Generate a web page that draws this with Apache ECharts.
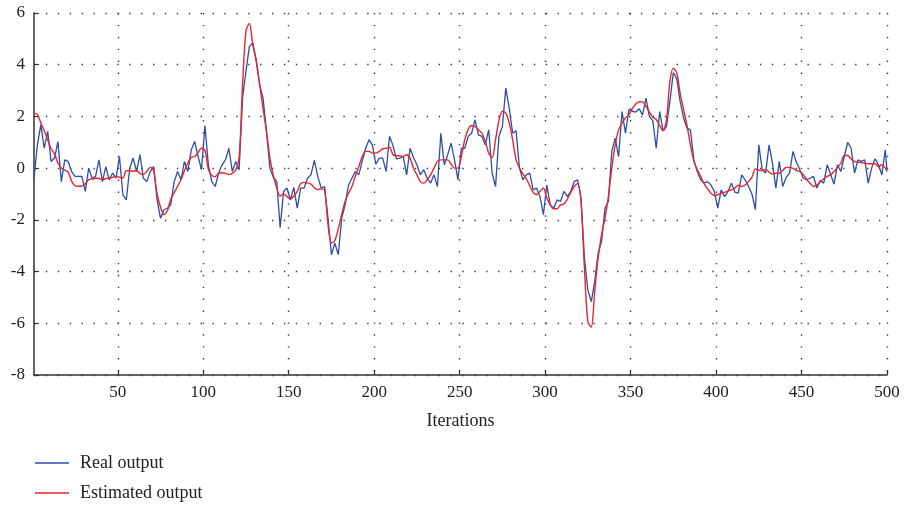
<!DOCTYPE html>
<html><head><meta charset="utf-8">
<script src="https://cdn.jsdelivr.net/npm/echarts@6/dist/echarts.min.js"></script>
<style>html,body{margin:0;padding:0;background:#fff}#c{width:905px;height:506px}</style>
</head><body><div id="c"></div>
<script>
// Real output, read at iterations 1,3,5,...,499 and 500
const realOutput = [
-0.39,0.9,1.68,0.77,1.42,0.26,0.39,1.03,-0.52,0.32,
0.26,-0.13,-0.32,-0.32,-0.32,-0.9,0.0,-0.39,-0.32,0.32,
-0.52,0.06,-0.45,-0.19,-0.39,0.45,-1.03,-1.23,0.0,0.39,
-0.13,0.52,-0.39,-0.52,-0.13,0.06,-1.23,-1.94,-1.61,-1.55,
-1.42,-0.52,-0.13,-0.45,0.26,-0.13,0.71,1.03,0.45,-0.06,
1.65,0.13,-0.52,-0.71,-0.19,0.13,0.32,0.77,-0.13,0.26,
-0.06,2.71,3.74,4.71,4.84,4.19,3.23,2.71,1.42,0.0,
-0.35,-0.52,-2.3,-0.9,-0.77,-1.23,-0.75,-1.55,-0.77,-0.77,
-0.39,-0.26,0.3,-0.32,-0.77,-0.71,-1.94,-3.35,-2.9,-3.35,
-1.94,-1.42,-0.65,-0.39,-0.13,-0.26,0.26,0.77,1.1,0.88,
0.15,0.39,0.39,-0.13,1.23,0.87,0.36,0.39,0.45,-0.26,
0.77,0.41,0.13,-0.26,-0.06,-0.39,-0.58,-0.26,-0.71,1.35,
0.13,0.52,0.97,0.32,-0.45,0.77,0.77,1.23,1.35,1.87,
1.29,1.23,0.9,1.48,-0.19,-0.71,1.23,1.61,3.1,2.32,
1.35,1.45,0.0,-0.45,-0.26,-0.19,-0.84,-0.77,-1.1,-1.8,
-0.65,-1.42,-1.55,-1.23,-1.29,-0.9,-1.1,-0.9,-0.52,-0.45,
-1.16,-3.48,-4.71,-5.16,-4.39,-3.29,-2.84,-1.55,-1.29,0.65,
1.16,0.45,2.19,1.35,2.26,2.2,2.17,2.3,2.06,2.71,
2.0,1.83,0.77,2.19,1.45,1.61,2.58,3.7,3.45,2.58,
1.94,1.55,1.48,0.32,-0.13,-0.45,-0.58,-0.52,-0.65,-0.9,
-1.55,-0.84,-1.1,-0.9,-0.58,-0.93,-0.97,-0.26,-0.45,-0.71,
-1.0,-1.6,0.9,-0.06,-0.19,0.9,0.19,-0.77,0.26,-0.71,
-0.36,-0.19,0.65,0.23,-0.06,-0.39,-0.45,-0.39,-0.32,-0.77,
-0.48,-0.58,0.13,-0.23,-0.62,0.13,-0.13,0.45,1.0,0.77,
-0.19,0.32,0.26,0.32,-0.58,0.0,0.36,0.13,-0.26,0.71,
-0.1
];
// Estimated output, same iterations
const estimatedOutput = [
2.12,2.08,1.75,1.45,1.1,0.75,0.55,0.2,0.0,-0.08,
-0.15,-0.5,-0.68,-0.7,-0.7,-0.6,-0.45,-0.42,-0.39,-0.4,
-0.45,-0.4,-0.38,-0.35,-0.32,-0.35,-0.38,-0.1,-0.1,-0.12,
-0.1,-0.2,-0.25,-0.12,0.03,-0.1,-1.0,-1.5,-1.8,-1.65,
-1.2,-0.95,-0.7,-0.45,-0.1,0.2,0.42,0.45,0.6,0.78,
0.68,-0.05,-0.28,-0.33,-0.2,-0.18,-0.2,-0.25,-0.2,-0.07,
0.4,3.2,5.3,5.6,4.77,4.13,3.23,2.3,1.42,0.39,
-0.28,-0.77,-1.08,-1.0,-1.1,-1.2,-1.08,-0.9,-0.6,-0.55,
-0.57,-0.62,-0.75,-0.83,-0.8,-0.85,-2.2,-2.9,-2.8,-2.35,
-1.8,-1.29,-0.97,-0.71,-0.3,0.06,0.45,0.65,0.65,0.58,
0.58,0.65,0.75,0.77,0.8,0.52,0.48,0.48,0.45,0.52,
0.39,0.0,-0.26,-0.52,-0.58,-0.45,-0.26,0.0,0.26,0.32,
0.32,0.32,0.15,0.0,0.0,0.45,1.1,1.5,1.65,1.6,
1.48,1.35,1.03,0.58,0.41,1.1,1.85,2.2,2.12,1.75,
1.1,0.32,0.0,-0.22,-0.41,-0.68,-0.94,-1.03,-0.9,-0.77,
-1.16,-1.42,-1.57,-1.57,-1.42,-1.39,-1.2,-0.94,-0.71,-0.6,
-1.29,-3.87,-5.94,-6.15,-4.77,-3.48,-2.58,-1.94,-1.1,0.0,
0.9,1.48,1.74,1.94,2.06,2.3,2.48,2.57,2.56,2.39,
2.17,1.97,1.88,1.65,1.45,1.87,3.35,3.87,3.68,2.9,
2.26,1.65,0.9,0.28,-0.06,-0.32,-0.6,-0.8,-0.97,-1.06,
-1.03,-0.97,-0.93,-0.88,-0.84,-0.77,-0.66,-0.71,-0.65,-0.52,
-0.35,-0.03,-0.08,-0.09,-0.05,-0.15,-0.23,-0.2,-0.19,-0.09,
0.03,0.03,-0.01,-0.09,-0.13,-0.25,-0.44,-0.58,-0.71,-0.65,
-0.52,-0.41,-0.32,-0.26,-0.13,0.03,0.19,0.49,0.49,0.35,
0.26,0.23,0.22,0.19,0.17,0.17,0.17,0.06,0.13,0.0,
-0.13
];
const xTickLabels = [50,100,150,200,250,300,350,400,450,500];
const seriesNames = ['Real output','Estimated output'];

const iterations = [];
for (let k = 0; k < 250; k++) iterations.push(1 + 2 * k);
iterations.push(500);

const FONT = '"Liberation Serif", "DejaVu Serif", serif';
const gridStyle = { color: '#3a3a3a', width: 1.4, type: [1.4, 10.5] };
const legendBase = {
  orient: 'horizontal', left: 30,
  icon: 'rect', itemWidth: 34, itemHeight: 1.5,
  textStyle: { fontFamily: FONT, fontSize: 18, color: '#222', padding: [0, 0, 0, 6] }
};

const chart = echarts.init(document.getElementById('c'), null, { renderer: 'canvas' });
chart.setOption({
  animation: false,
  backgroundColor: '#fff',
  grid: { left: 34, right: 18, top: 13, bottom: 131, containLabel: false },
  legend: [
    Object.assign({}, legendBase, { top: 449, data: [seriesNames[0]] }),
    Object.assign({}, legendBase, { top: 479, data: [seriesNames[1]] })
  ],
  xAxis: {
    type: 'value', min: 1, max: 500,
    name: 'Iterations', nameLocation: 'middle', nameGap: 37,
    nameTextStyle: { fontFamily: FONT, fontSize: 18, color: '#222' },
    axisLine: { onZero: false, lineStyle: { color: '#333', width: 1.5 } },
    axisTick: { inside: true, length: 5, customValues: xTickLabels, lineStyle: { color: '#333', width: 1.2 } },
    axisLabel: { customValues: xTickLabels, fontFamily: FONT, fontSize: 17, color: '#222', margin: 9 },
    splitLine: { show: true, lineStyle: gridStyle }
  },
  yAxis: {
    type: 'value', min: -8, max: 6, interval: 2,
    axisLine: { show: true, onZero: false, lineStyle: { color: '#333', width: 1.5 } },
    axisTick: { show: true, inside: true, length: 5, lineStyle: { color: '#333', width: 1.2 } },
    axisLabel: { fontFamily: FONT, fontSize: 17, color: '#222', margin: 9 },
    splitLine: { show: true, lineStyle: gridStyle }
  },
  series: [
    {
      name: seriesNames[0], type: 'line', symbol: 'none',
      data: iterations.map((x, k) => [x, realOutput[k]]),
      lineStyle: { color: '#2e4da6', width: 1.3 }, itemStyle: { color: '#2e4da6' }, z: 2
    },
    {
      name: seriesNames[1], type: 'line', symbol: 'none', smooth: 0.3,
      data: iterations.map((x, k) => [x, estimatedOutput[k]]),
      lineStyle: { color: '#e8242c', width: 1.4 }, itemStyle: { color: '#e8242c' }, z: 3
    }
  ]
});
</script>
</body></html>
